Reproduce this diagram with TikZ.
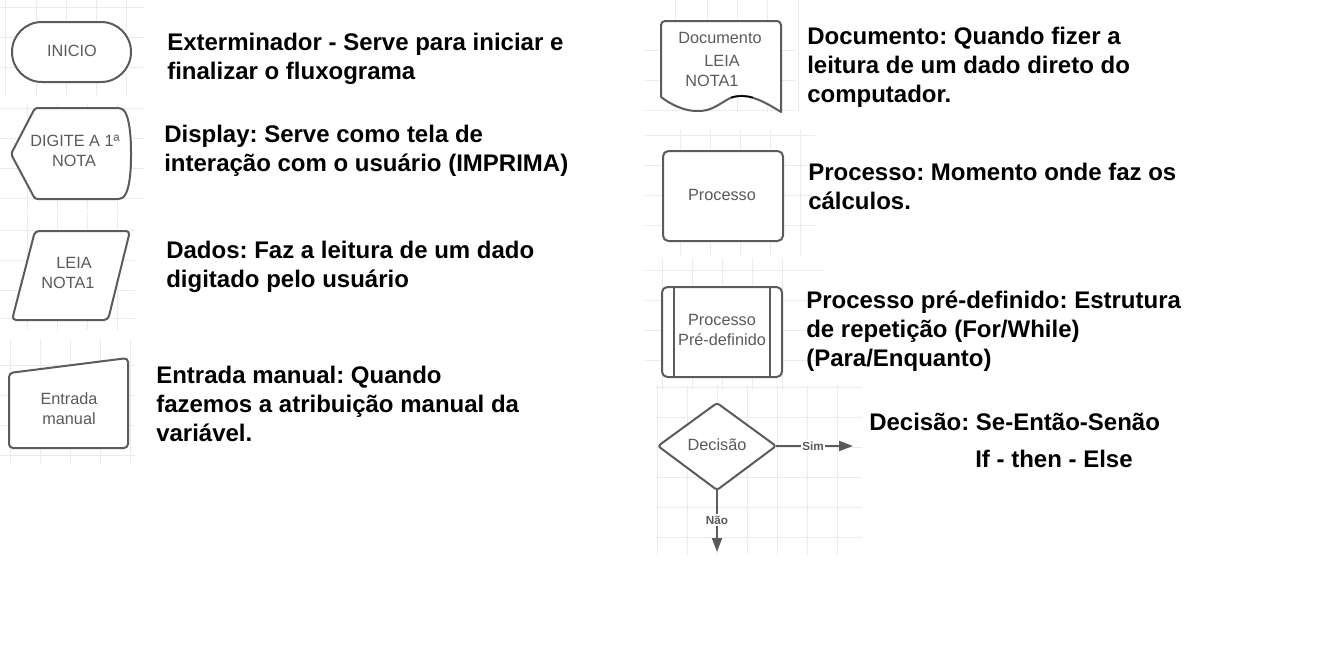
\documentclass[tikz,border=0pt]{standalone}
\usepackage{fontspec}
\setmainfont{Liberation Sans}
\frenchspacing
\usetikzlibrary{arrows.meta}
\definecolor{shapeln}{HTML}{5B5B5B}
\definecolor{shapetx}{HTML}{5A5A5A}
\definecolor{gridc}{HTML}{EBEBEB}
\begin{document}
\begin{tikzpicture}[x=0.75pt,y=-0.75pt,
  shapeline/.style={draw=shapeln,line width=1.5pt,line join=round},
  shapetext/.style={text=shapetx,font=\fontsize{12.2}{14}\selectfont,inner sep=0pt,anchor=center},
  desc/.style={font=\bfseries\fontsize{18}{21.75}\selectfont,text=black,anchor=base west,inner sep=0pt},
  gridline/.style={draw=gridc,line width=0.6pt},
  flowarrow/.style={draw=shapeln,line width=1.5pt,-{Triangle[length=10.5pt,width=7.5pt]}},
  flowlabel/.style={font=\bfseries\fontsize{8.8}{10}\selectfont,text=shapetx,fill=white,inner sep=1pt}]
\useasboundingbox (0,0) rectangle (1330,650);
% faint grid patches
\foreach \x in {5,36,66,96,126} \draw[gridline] (\x,0) -- (\x,97);
\foreach \y in {7,37,67} \draw[gridline] (0,\y) -- (145,\y);
\foreach \x in {27,57,87,117} \draw[gridline] (\x,104) -- (\x,210);
\foreach \y in {108,138,168,198} \draw[gridline] (0,\y) -- (145,\y);
\foreach \x in {27,57,87,117} \draw[gridline] (\x,212) -- (\x,330);
\foreach \y in {230,260,290,318} \draw[gridline] (0,\y) -- (135,\y);
\foreach \x in {10,40,70,100,130} \draw[gridline] (\x,340) -- (\x,465);
\foreach \y in {365,395,425,455} \draw[gridline] (0,\y) -- (135,\y);
\foreach \x in {675,707,737,767,798} \draw[gridline] (\x,0) -- (\x,112);
\foreach \y in {50,80,110} \draw[gridline] (645,\y) -- (795,\y);
\foreach \x in {680,710,740,770,800} \draw[gridline] (\x,130) -- (\x,255);
\foreach \y in {135,165,195,225} \draw[gridline] (645,\y) -- (815,\y);
\foreach \x in {662,692,722,752,782} \draw[gridline] (\x,258) -- (\x,390);
\foreach \y in {270,300,330,360} \draw[gridline] (645,\y) -- (825,\y);
\foreach \x in {657,687,717,747,777,807,837} \draw[gridline] (\x,385) -- (\x,555);
\foreach \y in {387,417,447,477,507,537} \draw[gridline] (655,\y) -- (862,\y);

% ---- left column shapes ----
% terminator
\draw[shapeline,fill=white,rounded corners=22.4pt] (12,22) rectangle (131,82);
\node[shapetext] (inicio) at (72,51) {INICIO};
% display
\draw[shapeline,fill=white,rounded corners=2pt] (11,154) -- (35,108) -- (120,108)
  .. controls (128,112) and (131,130) .. (131,154)
  .. controls (131,178) and (128,195) .. (120,199) -- (35,199) -- cycle;
\node[shapetext] (dig1) at (75,141) {DIGITE A 1ª};
\node[shapetext] (dig2) at (74,161) {NOTA};
% data parallelogram
\draw[shapeline,fill=white,rounded corners=3pt] (35,231) -- (130,231) -- (108,320) -- (12,320) -- cycle;
\node[shapetext] (leia1) at (74,263) {LEIA};
\node[shapetext] (leia2) at (68,283) {NOTA1};
% manual input
\draw[shapeline,fill=white,rounded corners=3pt] (9,373) -- (128,358) -- (128,448) -- (9,448) -- cycle;
\node[shapetext] (man1) at (69,399) {Entrada};
\node[shapetext] (man2) at (69,419) {manual};

% ---- right column shapes ----
% document
\draw[shapeline,fill=white] (661,97) -- (661,25) [rounded corners=3pt] -- (661,21) -- (781,21) [sharp corners] -- (781,112)
  .. controls (765,102) and (752,95) .. (738,96)
  .. controls (725,97) and (718,110) .. (700,111)
  .. controls (685,112) and (670,104) .. (661,97);
\draw[black,line width=1.2pt] (731,97.5) .. controls (738,95.5) and (746,95.5) .. (753,97.5);
\node[shapetext] (doc1) at (720,38) {Documento};
\node[shapetext] (doc2) at (722,61) {LEIA};
\node[shapetext] (doc3) at (712,81) {NOTA1};
% process
\draw[shapeline,fill=white,rounded corners=4pt] (663,151) rectangle (783,241);
\node[shapetext] (proc) at (722,195) {Processo};
% predefined process
\draw[shapeline,fill=white,rounded corners=4pt] (662,287) rectangle (782,377);
\draw[shapeline] (674,287) -- (674,377);
\draw[shapeline] (770,287) -- (770,377);
\node[shapetext] (pre1) at (722,320) {Processo};
\node[shapetext] (pre2) at (722,340) {Pré-definido};
% decision
\draw[shapeline,fill=white,rounded corners=2pt] (658,446) -- (717,403) -- (776,446) -- (717,490) -- cycle;
\node[shapetext] (dec) at (717,445) {Decisão};
\coordinate (decR) at (776,446);
\coordinate (decB) at (717,490);
\coordinate (simEnd) at (853,446);
\coordinate (naoEnd) at (717,552);
\draw[flowarrow] (decR) -- (simEnd);
\draw[flowarrow] (decB) -- (naoEnd);
\node[flowlabel] (sim) at (813,446) {Sim};
\node[flowlabel] (nao) at (717,520) {Não};

% ---- descriptions ----
\node[desc] (t1a) at (167,50) {Exterminador - Serve para iniciar e};
\node[desc] (t1b) at (167,79) {finalizar o fluxograma};
\node[desc] (t2a) at (164,142) {Display: Serve como tela de};
\node[desc] (t2b) at (164,171) {interação com o usuário (IMPRIMA)};
\node[desc] (t3a) at (166,258) {Dados: Faz a leitura de um dado};
\node[desc] (t3b) at (166,287) {digitado pelo usuário};
\node[desc] (t4a) at (156,383) {Entrada manual: Quando};
\node[desc] (t4b) at (156,412) {fazemos a atribuição manual da};
\node[desc] (t4c) at (156,441) {variável.};
\node[desc] (t5a) at (807,44) {Documento: Quando fizer a};
\node[desc] (t5b) at (807,73) {leitura de um dado direto do};
\node[desc] (t5c) at (807,102) {computador.};
\node[desc] (t6a) at (808,180) {Processo: Momento onde faz os};
\node[desc] (t6b) at (808,209) {cálculos.};
\node[desc] (t7a) at (806,308) {Processo pré-definido: Estrutura};
\node[desc] (t7b) at (806,337) {de repetição (For/While)};
\node[desc] (t7c) at (806,366) {(Para/Enquanto)};
\node[desc] (t8a) at (869,430) {Decisão: Se-Então-Senão};
\node[desc] (t8b) at (975,467) {If - then - Else};
\end{tikzpicture}
\end{document}
